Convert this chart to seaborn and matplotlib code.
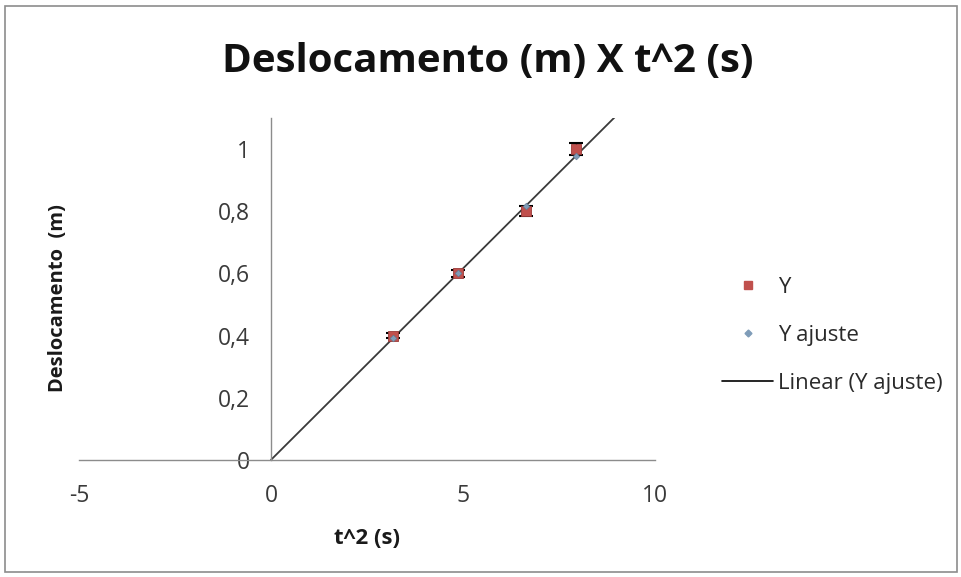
import numpy as np
import pandas as pd
import matplotlib
matplotlib.use("Agg")
import matplotlib.pyplot as plt
from matplotlib.patches import Rectangle
from matplotlib.lines import Line2D
import seaborn as sns

# ---- data ----
t2 = [3.18, 4.87, 6.64, 7.94]          # t^2 (s)
y = [0.40, 0.60, 0.80, 1.00]           # Y (m)
y_err = [0.008, 0.010, 0.016, 0.020]   # error of Y
y_fit = [0.392, 0.600, 0.818, 0.978]   # Y ajuste
x_ticks = [-5, 0, 5, 10]
x_ticklabels = ["-5", "0", "5", "10"]
y_ticks = [0, 0.2, 0.4, 0.6, 0.8, 1.0]
y_ticklabels = ["0", "0,2", "0,4", "0,6", "0,8", "1"]

sns.set_theme(style="white")
plt.rcParams['font.family'] = ['Open Sans', 'DejaVu Sans']

fig = plt.figure(figsize=(9.62, 5.77), dpi=100)
ax = fig.add_axes([79/962, 1-460/577, (655-79)/962, (460-118)/577])

df = pd.DataFrame({"x": t2, "Y": y, "fit": y_fit})

# trendline (linear fit of Y ajuste)
coef = np.polyfit(t2, y_fit, 1)
line_x = np.array([0.0, 10.0])
line_df = pd.DataFrame({"x": line_x, "y": np.polyval(coef, line_x)})
sns.lineplot(data=line_df, x="x", y="y", ax=ax, color="#3a3a3a", lw=1.3, zorder=2)

ax.errorbar(t2, y, yerr=y_err, fmt="none", ecolor="black", elinewidth=1.0,
            capsize=5, capthick=1.5, zorder=3)
sns.scatterplot(data=df, x="x", y="Y", ax=ax, marker="s", s=55, color="#C0504D",
                edgecolor="#9a3a38", linewidth=0.6, zorder=4)
sns.scatterplot(data=df, x="x", y="fit", ax=ax, marker="D", s=12, color="#7F9CB8",
                edgecolor="#5f7890", linewidth=0.4, zorder=5)

ax.set_xlim(-5, 10)
ax.set_ylim(0, 1.1)
ax.set_xticks(x_ticks)
ax.set_xticklabels(x_ticklabels)
ax.set_yticks(y_ticks)
ax.set_yticklabels(y_ticklabels)

for s in ["top", "right"]:
    ax.spines[s].set_visible(False)
ax.spines["left"].set_position(("data", 0))
ax.spines["bottom"].set_position(("data", 0))
for s in ["left", "bottom"]:
    ax.spines[s].set_color("#8c8c8c")
    ax.spines[s].set_linewidth(1.0)
ax.tick_params(axis="both", direction="out", length=6, width=1.0, color="#8c8c8c",
               labelsize=16.5, labelcolor="#3a3a3a")
ax.tick_params(axis="x", pad=11)
ax.tick_params(axis="y", pad=9)
ax.set_xlabel("")
ax.set_ylabel("")
ax.grid(False)

fig.text(367/962, 1-538/577, "t^2 (s)", ha="center", va="center",
         fontsize=16, fontweight="bold", color="#1a1a1a")
fig.text(58/962, 1-298/577, "Deslocamento  (m)", ha="center", va="center",
         rotation=90, fontsize=14.5, fontweight="bold", color="#1a1a1a")
fig.text(488/962, 1-62/577, "Deslocamento (m) X t^2 (s)", ha="center", va="center",
         fontsize=29, fontweight="bold", color="#111111")

handles = [
    Line2D([], [], marker="s", linestyle="none", markersize=6, color="#C0504D"),
    Line2D([], [], marker="D", linestyle="none", markersize=3.5, color="#7F9CB8"),
    Line2D([], [], color="black", lw=1.2),
]
fig.legend(handles, ["Y", "Y ajuste", "Linear (Y ajuste)"], loc="upper left",
           bbox_to_anchor=(702/962, 1-257/577), frameon=False, fontsize=16,
           labelspacing=1.22, handlelength=2.3, handletextpad=0.2,
           labelcolor="#2a2a2a")

fig.add_artist(Rectangle((5/962, 5/577), 952/962, 566/577, transform=fig.transFigure,
                         fill=False, edgecolor="#8c8c8c", lw=1.2))

fig.savefig("out.png", dpi=100)
